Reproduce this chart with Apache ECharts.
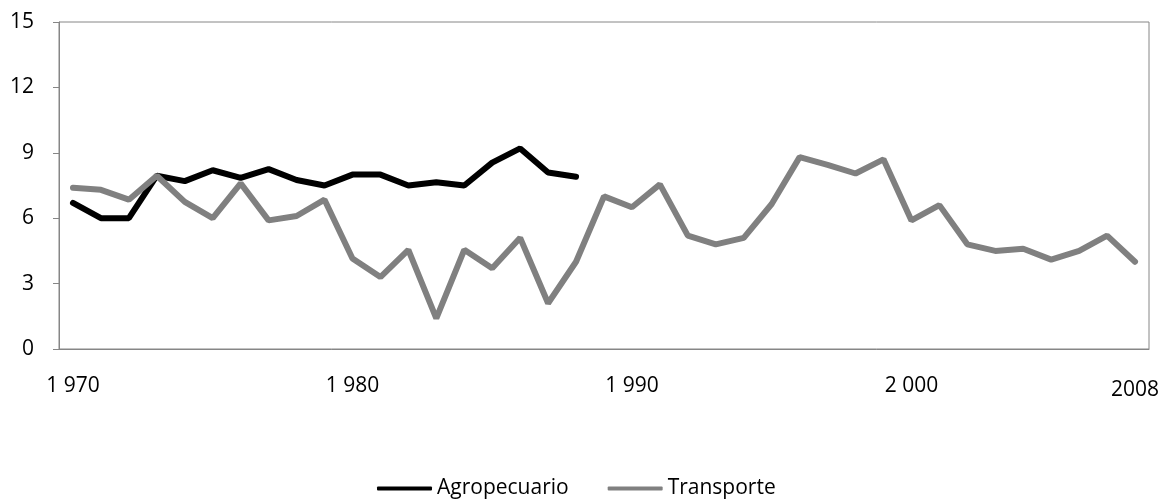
<!DOCTYPE html>
<html>
<head>
<meta charset="utf-8">
<script src="https://cdn.jsdelivr.net/npm/echarts@6/dist/echarts.min.js"></script>
<style>
  html, body { margin: 0; padding: 0; background: #fff; }
  #chart { width: 1168px; height: 501px; }
</style>
</head>
<body>
<div id="chart"></div>
<script>
// Years on the horizontal axis
const years = [];
for (let y = 1970; y <= 2008; y++) years.push(String(y));

// Tick labels shown under the axis
const yearLabels = { '1970': '1 970', '1980': '1 980', '1990': '1 990', '2000': '2 000', '2008': '2008' };

// Agropecuario series (1970–1988)
const agropecuario = [
  6.7, 6.0, 6.0, 7.95, 7.7, 8.2, 7.85, 8.25, 7.75, 7.5,
  8.0, 8.0, 7.5, 7.65, 7.5, 8.55, 9.2, 8.1, 7.9
];

// Transporte series (1970–2008)
const transporte = [
  7.4, 7.3, 6.85, 7.95, 6.75, 6.0, 7.6, 5.9, 6.1, 6.85,
  4.15, 3.3, 4.55, 1.4, 4.55, 3.7, 5.1, 2.1, 4.0, 7.0,
  6.5, 7.55, 5.2, 4.8, 5.1, 6.65, 8.8, 8.45, 8.05, 8.7,
  5.9, 6.6, 4.8, 4.5, 4.6, 4.1, 4.5, 5.2, 4.0
];

const yTicks = { min: 0, max: 15, interval: 3 };

const axisGray = '#868686';
const font = '"Open Sans", "Noto Sans", sans-serif';

const chart = echarts.init(document.getElementById('chart'));
chart.setOption({
  animation: false,
  grid: {
    left: 59, right: 19, top: 22, bottom: 152,
    show: true, borderColor: axisGray, borderWidth: 1
  },
  legend: {
    top: 478,
    left: 377,
    padding: 0,
    itemWidth: 55,
    itemHeight: 4,
    itemGap: 39,
    icon: 'roundRect',
    textStyle: { fontFamily: font, fontSize: 21, color: '#000' },
    data: ['Agropecuario', 'Transporte']
  },
  xAxis: {
    type: 'category',
    data: years,
    boundaryGap: true,
    axisLine: { lineStyle: { color: axisGray, width: 1 } },
    axisTick: { interval: 0, length: 7, lineStyle: { color: axisGray } },
    splitLine: { show: false },
    axisLabel: {
      interval: (i, v) => v in yearLabels,
      formatter: (v) => v === '2008' ? '{low|' + yearLabels[v] + '}' : yearLabels[v],
      margin: 27,
      color: '#000',
      fontFamily: font,
      fontSize: 21,
      rich: { low: { fontFamily: font, fontSize: 21, color: '#000', padding: [4, 0, 0, 0] } }
    }
  },
  yAxis: {
    type: 'value',
    min: yTicks.min, max: yTicks.max, interval: yTicks.interval,
    axisLine: { show: true, lineStyle: { color: axisGray, width: 1 } },
    axisTick: { show: true, length: 6, lineStyle: { color: axisGray } },
    splitLine: { show: false },
    axisLabel: { color: '#000', fontFamily: font, fontSize: 21, margin: 25 }
  },
  series: [
    {
      name: 'Agropecuario',
      type: 'line',
      data: agropecuario,
      showSymbol: false,
      color: '#000000',
      lineStyle: { color: '#000000', width: 6, cap: 'round' }
    },
    {
      name: 'Transporte',
      type: 'line',
      data: transporte,
      showSymbol: false,
      color: '#808080',
      lineStyle: { color: '#808080', width: 6, cap: 'round' }
    }
  ]
});
</script>
</body>
</html>
